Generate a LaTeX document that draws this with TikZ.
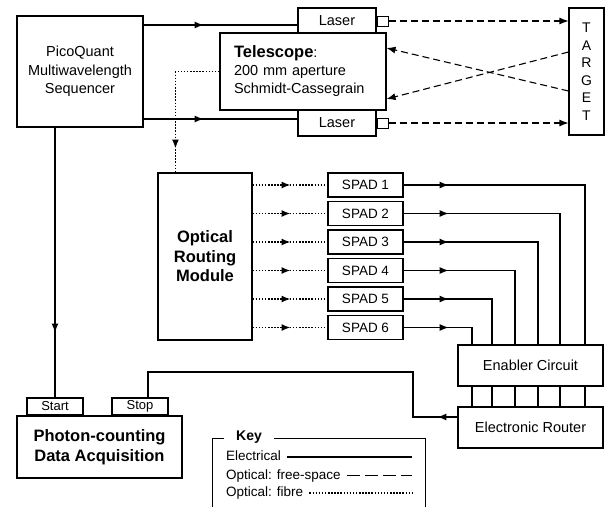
\documentclass[tikz,border=0pt]{standalone}
\usepackage{fontspec}
\setmainfont{Liberation Sans}
\usetikzlibrary{arrows.meta}

\begin{document}
\begin{tikzpicture}[x=1pt, y=-1pt,
      blk/.style={draw, line width=1.1pt, fill=white, align=center, inner sep=2pt, font=\fontsize{14.5}{18.5}\selectfont},
      bigblk/.style={blk, font=\bfseries\fontsize{16.5}{19.5}\selectfont},
      spadbox/.style={blk, minimum width=75pt, minimum height=24pt, font=\fontsize{13.5}{16}\selectfont},
      tag/.style={blk, minimum width=56pt, minimum height=17pt, inner sep=0pt, font=\fontsize{13}{15}\selectfont},
      port/.style={draw, line width=1pt, minimum width=11pt, minimum height=10pt, inner sep=0pt, anchor=west},
      elec/.style={line width=1.1pt},
      fspace/.style={line width=1.1pt, dash pattern=on 7pt off 4pt},
      fibre/.style={line width=1.5pt, dash pattern=on 1.5pt off 1.6pt},
      tip/.style={-{Latex[length=9pt,width=7pt]}},
      keyitem/.style={anchor=west, inner xsep=6pt, inner ysep=0pt, text height=9.5pt, text depth=2.5pt, font=\fontsize{13.5}{16}\selectfont}
    ]
      \clip (0,0) rectangle (607,506);

      % Transmit side
      \node[blk, minimum width=126pt, minimum height=111pt] (seq) at (80,71.5) {PicoQuant\\Multiwavelength\\Sequencer};
      \node[blk, minimum width=78pt, minimum height=26pt] (laserA) at (337,21) {Laser};
      \node[blk, minimum width=78pt, minimum height=26pt] (laserB) at (337,123) {Laser};
      \node[port] (portA) at (laserA.east) {};
      \node[port] (portB) at (laserB.east) {};
      \node[blk, minimum width=166pt, minimum height=77pt, text width=138pt, align=left, inner xsep=14pt,
            font=\fontsize{14.5}{18}\selectfont] (telescope) at (303,71.5)
        {{\bfseries\fontsize{16.5}{18}\selectfont Telescope}:\\200 mm aperture\\Schmidt-Cassegrain};
      \node[blk, minimum width=35pt, minimum height=127pt, font=\fontsize{14}{17.5}\selectfont] (target) at (586.5,71.5) {T\\A\\R\\G\\E\\T};

      % Detection side
      \node[bigblk, minimum width=94pt, minimum height=167pt] (orm) at (205,256.5) {Optical\\Routing\\Module};
      \foreach \i/\xv in {1/585,2/560,3/538,4/515,5/492,6/472}{
        \node[spadbox] (spad\i) at (365.5,{185+28.5*(\i-1)}) {SPAD \i};
        \coordinate (col\i) at (\xv,0);
      }
      \node[blk, minimum width=145pt, minimum height=41pt] (enabler) at (530.5,365.5) {Enabler Circuit};
      \node[blk, minimum width=145pt, minimum height=41pt] (router) at (530.5,427.5) {Electronic Router};
      \node[bigblk, minimum width=165pt, minimum height=62pt] (daq) at (99.5,447) {Photon-counting\\Data Acquisition};
      \node[tag] (start) at (55,406.5) {Start};
      \node[tag] (stop) at (140,406.5) {Stop};

      % Electrical connections (arrow heads part way along)
      \coordinate (la) at ([yshift=-4pt]laserA.west);
      \coordinate (lb) at ([yshift=4pt]laserB.west);
      \draw[elec] (seq.east |- la) -- (la);
      \draw[elec, tip] (seq.east |- la) -- ++(60,0);
      \draw[elec] (seq.east |- lb) -- (lb);
      \draw[elec, tip] (seq.east |- lb) -- ++(60,0);
      \draw[elec] (seq.south -| start.north) -- (start.north);
      \draw[elec, tip] (seq.south -| start.north) -- ++(0,205);
      \foreach \i in {1,...,6}{
        \draw[fibre] (orm.east |- spad\i.west) -- (spad\i.west);
        \draw[fibre, tip] (orm.east |- spad\i.west) -- ++(38,0);
        \draw[elec] (spad\i.east) -| (col\i |- enabler.north);
        \draw[elec, tip] (spad\i.east) -- ++(45,0);
        \draw[elec] (col\i |- enabler.south) -- (col\i |- router.north);
      }
      \coordinate (rt) at ([yshift=10.5pt]router.west);
      \draw[elec] (rt) -| (413,372) -| ([xshift=8pt]stop.north);
      \draw[elec, tip] (rt) -- ++(-20,0);

      % Optical paths
      \draw[fspace, tip] (portA.east) -- (portA.east -| target.west);
      \draw[fspace, tip] (portB.east) -- (portB.east -| target.west);
      \draw[fspace, tip] ([yshift=19.5pt]target.west) -- ([yshift=-27.5pt]telescope.east);
      \draw[fspace, tip] ([yshift=-19.5pt]target.west) -- ([yshift=23.5pt]telescope.east);
      \coordinate (fbend) at ([xshift=-44pt]telescope.west);
      \draw[fibre] (telescope.west) -- (fbend);
      \draw[fibre] (fbend) -- (fbend |- orm.north);
      \draw[fibre, tip] (fbend) -- ++(0,77);

      % Key
      \draw[line width=1pt] (212,510) -- (212,438) -- (425,438) -- (425,510);
      \node[fill=white, inner xsep=12pt, inner ysep=1pt, font=\bfseries\fontsize{14}{16}\selectfont] (keytitle) at (249,437) {Key};
      \coordinate (keyend) at (412,0);
      \node[keyitem] (kel) at (220,457) {Electrical};
      \node[keyitem] (kfs) at (220,475.5) {Optical: free-space};
      \node[keyitem] (kfb) at (220,493) {Optical: fibre};
      \draw[elec] (kel.east) -- (kel.east -| keyend);
      \draw[line width=1.1pt, dash pattern=on 13pt off 5pt] (kfs.east) -- (kfs.east -| keyend);
      \draw[fibre] (kfb.east) -- (kfb.east -| keyend);
    \end{tikzpicture}
\end{document}
